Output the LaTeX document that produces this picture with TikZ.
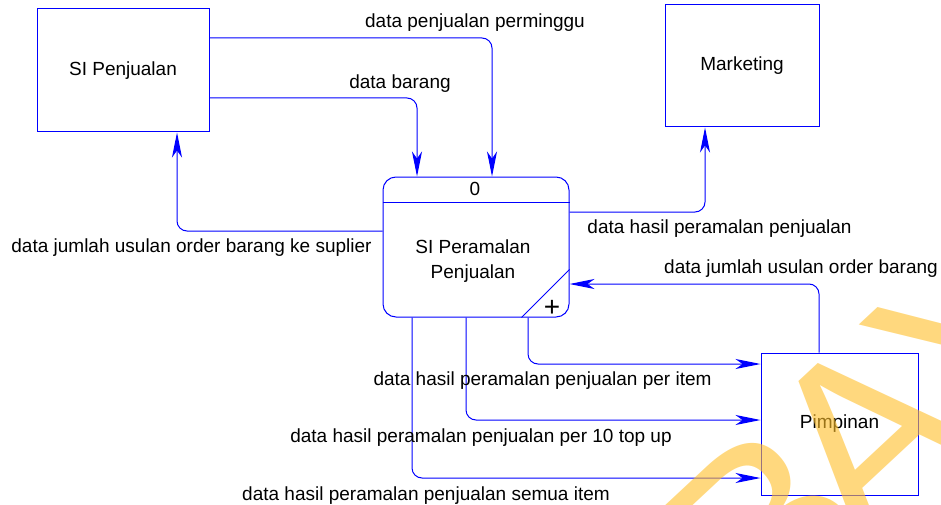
\documentclass[tikz,border=0pt]{standalone}
\usepackage{fontspec}
\setmainfont{Liberation Sans}
\usetikzlibrary{arrows.meta}
\definecolor{flowblue}{RGB}{0,0,255}
\definecolor{markyellow}{RGB}{255,190,40}
\tikzset{
  entity/.style={draw=flowblue, line width=1pt, fill=white, inner sep=0pt},
  procbox/.style={draw=flowblue, line width=1pt, rounded corners=13pt, inner sep=0pt,
                  minimum width=186pt, minimum height=140pt},
  flow/.style={draw=flowblue, line width=1pt, rounded corners=10pt,
               -{Stealth[length=25pt, width=10pt, inset=7pt]}},
  lbl/.style={inner sep=0pt, anchor=base, font=\fontsize{19}{25}\selectfont},
  boxtext/.style={font=\fontsize{19}{25}\selectfont}
}
\begin{document}
\begin{tikzpicture}[x=1pt, y=-1pt]
\useasboundingbox (0,0) rectangle (941,505);

% external entities
\node[entity, boxtext, minimum width=172pt, minimum height=123pt] (sip) at (123,70.5) {SI Penjualan};
\node[entity, boxtext, minimum width=154pt, minimum height=122pt] (mkt) at (742,66) {Marketing};
\node[entity, boxtext, minimum width=157pt, minimum height=142pt] (pim) at (839.5,424) {Pimpinan};

% process 0
\node[procbox] (proc) at (476,247) {};
\draw[flowblue, line width=1pt] ([yshift=-26pt]proc.north west) -- ([yshift=-26pt]proc.north east);
\draw[flowblue, line width=0.8pt] ([xshift=-48pt]proc.south east) -- ([yshift=48pt]proc.south east);
\node[lbl] (procid) at (475,195) {0};
\node[boxtext, align=center, inner sep=0pt] (procname) at (473,261.5) {SI Peramalan\\Penjualan};
\node[lbl, font=\fontsize{28}{28}\selectfont] (procplus) at (552,316) {+};

% data flows
\draw[flow] ([yshift=-29.5pt]sip.north east) -| ([xshift=16pt]proc.north);
\draw[flow] ([yshift=-89.5pt]sip.north east) -| ([xshift=-59pt]proc.north);
\draw[flow] ([yshift=16pt]proc.west) -| ([xshift=54pt]sip.south);
\draw[flow] ([yshift=35pt]proc.east) -| ([xshift=-37pt]mkt.south);
\draw[flow] ([xshift=-20.5pt]pim.north) |- ([yshift=-37pt]proc.east);
\draw[flow] ([xshift=52pt]proc.south) |- ([yshift=60pt]pim.west);
\draw[flow] ([xshift=-10pt]proc.south) |- ([yshift=4pt]pim.west);
\draw[flow] ([xshift=-64pt]proc.south) |- ([yshift=-54pt]pim.west);

% flow labels
\node[lbl] (l1) at (475,28) {data penjualan perminggu};
\node[lbl] (l2) at (400,89) {data barang};
\node[lbl] (l3) at (191.5,252.5) {data jumlah usulan order barang ke suplier};
\node[lbl] (l4) at (719.5,233) {data hasil peramalan penjualan};
\node[lbl] (l5) at (801,273) {data jumlah usulan order barang};
\node[lbl] (l6) at (542.5,385) {data hasil peramalan penjualan per item};
\node[lbl] (l7) at (481,442) {data hasil peramalan penjualan per 10 top up};
\node[lbl] (l8) at (426,500) {data hasil peramalan penjualan semua item};

% watermark
\begin{scope}
\clip (0,0) rectangle (941,505);
\node[inner sep=0pt, anchor=base west, rotate=43, text=markyellow, opacity=0.6,
      font=\fontsize{250}{260}\selectfont] (wm) at (763.5,649.6) {B\kern-29pt AYA};
\end{scope}
\end{tikzpicture}
\end{document}
